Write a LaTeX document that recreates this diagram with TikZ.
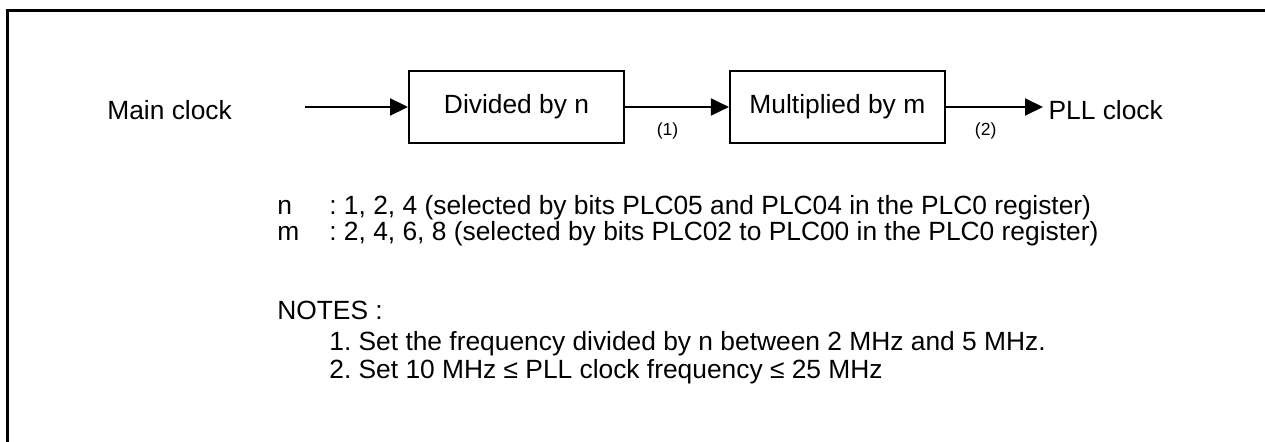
\documentclass[tikz,border=0pt]{standalone}
\usepackage{fontspec}
\setmainfont{Liberation Sans}
\usetikzlibrary{arrows.meta, positioning}
\frenchspacing

\begin{document}
\begin{tikzpicture}[
    x=0.02cm, y=-0.02cm,
    box/.style={rectangle, draw, line width=1.1pt, minimum width=4.3cm, minimum height=1.44cm, font=\fontsize{15}{18}\selectfont},
    txt/.style={font=\fontsize{15}{18}\selectfont, inner sep=0pt, anchor=base west},
    tag/.style={font=\fontsize{10}{12}\selectfont},
    arrow/.style={-{Triangle[length=3.6mm, width=3.4mm]}, line width=1.1pt},
]
\useasboundingbox (0,0) rectangle (1265,442);
\draw[line width=1.4pt] (7.5,442) -- (7.5,10.5) -- (1265,10.5);

\node[box] (div) at (516.5,107) {Divided by n};
\node[box, right=2.08cm of div] (mul) {Multiplied by m};

\node[txt] (main) at (107,120) {Main clock};
\coordinate (in) at (305,107);
\node[txt, inner sep=3pt] (pll) at (1043,120) {PLL clock};

\draw[arrow] (in) -- (div);
\draw[arrow] (div) -- node[tag, below=0.18cm, pos=0.41] {(1)} (mul);
\draw[arrow] (mul) -- node[tag, below=0.18cm, pos=0.41] {(2)} (mul -| pll.west);

% values of n and m
\node[txt] (nsym) at (277,215) {n};
\node[txt] (nval) at (329,215) {: 1, 2, 4 (selected by bits PLC05 and PLC04 in the PLC0 register)};
\node[txt] (msym) at (277,240.5) {m};
\node[txt] (mval) at (329,240.5) {: 2, 4, 6, 8 (selected by bits PLC02 to PLC00 in the PLC0 register)};

% notes
\node[txt] (notes) at (277,319) {NOTES :};
\node[txt] (note1) at (329,351) {1. Set the frequency divided by n between 2 MHz and 5 MHz.};
\node[txt] (note2) at (329,378) {2. Set 10 MHz ≤ PLL clock frequency ≤ 25 MHz};
\end{tikzpicture}
\end{document}
